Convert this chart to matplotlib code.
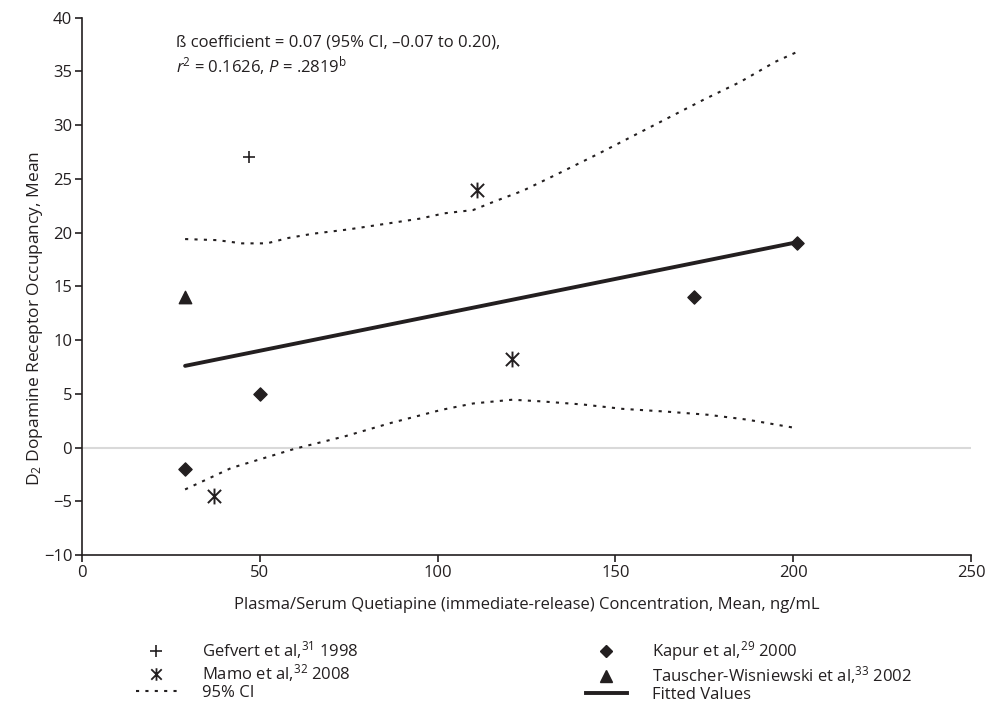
import matplotlib
matplotlib.use("Agg")
import matplotlib.pyplot as plt
from matplotlib.lines import Line2D
from matplotlib.path import Path

# 論文の図の値
gefvert_x = [47]
gefvert_y = [27]
kapur_x = [29, 50, 172, 201]
kapur_y = [-2, 5, 14, 19]
mamo_x = [37, 111, 121]
mamo_y = [-4.5, 24, 8.2]
tauscher_x = [29]
tauscher_y = [14]

fit_x = [29, 201]
fit_y = [7.6, 19.1]

ci_up_x = [29, 38, 45, 52, 58, 65, 75, 85, 95, 102, 110, 116, 124, 134, 145, 155, 165, 175, 185, 195, 201]
ci_up_y = [19.4, 19.3, 19.0, 19.0, 19.5, 19.9, 20.3, 20.8, 21.3, 21.8, 22.1, 22.9, 23.9, 25.5, 27.3, 29.0, 30.7, 32.4, 34.0, 35.9, 36.8]
ci_lo_x = [29, 42, 60, 74, 87, 101, 110, 121, 129, 141, 152, 164, 176, 187, 201]
ci_lo_y = [-3.9, -1.9, -0.1, 1.05, 2.3, 3.5, 4.1, 4.45, 4.3, 4.0, 3.6, 3.35, 3.05, 2.6, 1.8]

x_ticks = [0, 50, 100, 150, 200, 250]
y_ticks = [-10, -5, 0, 5, 10, 15, 20, 25, 30, 35, 40]

FONT = "Open Sans"
plt.rcParams['font.family'] = [FONT, 'DejaVu Sans']
plt.rcParams['mathtext.fontset'] = 'custom'
plt.rcParams['mathtext.rm'] = FONT
plt.rcParams['mathtext.it'] = FONT + ':italic'

ink = '#231f20'
dots = (0, (1.5, 3))

# X に縦棒を足したマーカー
star = Path([(-1, -1), (1, 1), (-1, 1), (1, -1), (0, -1.2), (0, 1.2)],
            [Path.MOVETO, Path.LINETO, Path.MOVETO, Path.LINETO, Path.MOVETO, Path.LINETO])

fig = plt.figure(figsize=(9.9, 7.02), dpi=100)
ax = fig.add_axes([0.0828, 0.2094, 0.898, 0.7654])

# y=0 の灰色の線
ax.axhline(0, color='#d9d9d9', lw=1.5, zorder=1)

ax.plot(ci_up_x, ci_up_y, color=ink, lw=1.5, ls=dots)
ax.plot(ci_lo_x, ci_lo_y, color=ink, lw=1.5, ls=dots)
ax.plot(fit_x, fit_y, color=ink, lw=2.8, solid_capstyle='round')

ax.scatter(gefvert_x, gefvert_y, marker='+', s=65, color=ink, linewidths=1.2, zorder=3)
ax.scatter(kapur_x, kapur_y, marker='D', s=45, color=ink, zorder=3)
ax.scatter(mamo_x, mamo_y, marker=star, s=130, color=ink, linewidths=1.4, zorder=3)
ax.scatter(tauscher_x, tauscher_y, marker='^', s=80, color=ink, zorder=3)

ax.set_xlim(0, 250)
ax.set_ylim(-10, 40)
ax.set_xticks(x_ticks)
ax.set_yticks(y_ticks)
ax.spines['top'].set_visible(False)
ax.spines['right'].set_visible(False)
for s in ['left', 'bottom']:
    ax.spines[s].set_linewidth(1.2)
    ax.spines[s].set_color(ink)
ax.tick_params(direction='out', length=5, width=1.2, color=ink, labelsize=12, labelcolor=ink, pad=2)

ax.set_xlabel('Plasma/Serum Quetiapine (immediate-release) Concentration, Mean, ng/mL',
              fontsize=12, color=ink, labelpad=12)
ax.set_ylabel('D$_2$ Dopamine Receptor Occupancy, Mean', fontsize=12.5, color=ink)
ax.yaxis.set_label_coords(-0.042, 0.44)

ax.text(26.5, 38.4, 'ß coefficient = 0.07 (95% CI, \u20130.07 to 0.20),\n'
        '$r$$^2$ = 0.1626, $P$ = .2819$^{\\rm b}$',
        fontsize=12, color=ink, va='top', ha='left', linespacing=1.15)

# 凡例
handles = [
    Line2D([], [], ls='none', marker='+', ms=8, mew=1.2, color=ink),
    Line2D([], [], ls='none', marker=star, ms=9, mew=1.3, color=ink),
    Line2D([], [], color=ink, lw=1.5, ls=dots),
    Line2D([], [], ls='none', marker='D', ms=6.5, color=ink),
    Line2D([], [], ls='none', marker='^', ms=8, color=ink),
    Line2D([], [], color=ink, lw=2.8),
]
labels = ['Gefvert et al,$^{31}$ 1998', 'Mamo et al,$^{32}$ 2008', '95% CI',
          'Kapur et al,$^{29}$ 2000', 'Tauscher-Wisniewski et al,$^{33}$ 2002', 'Fitted Values']
fig.legend(handles, labels, loc='upper left', bbox_to_anchor=(0.129, 0.101), ncol=2,
           frameon=False, fontsize=12, handlelength=2.45, handletextpad=1.5,
           columnspacing=13.65, labelspacing=0.05, borderpad=0, labelcolor=ink)

fig.savefig('out.png', dpi=100)
